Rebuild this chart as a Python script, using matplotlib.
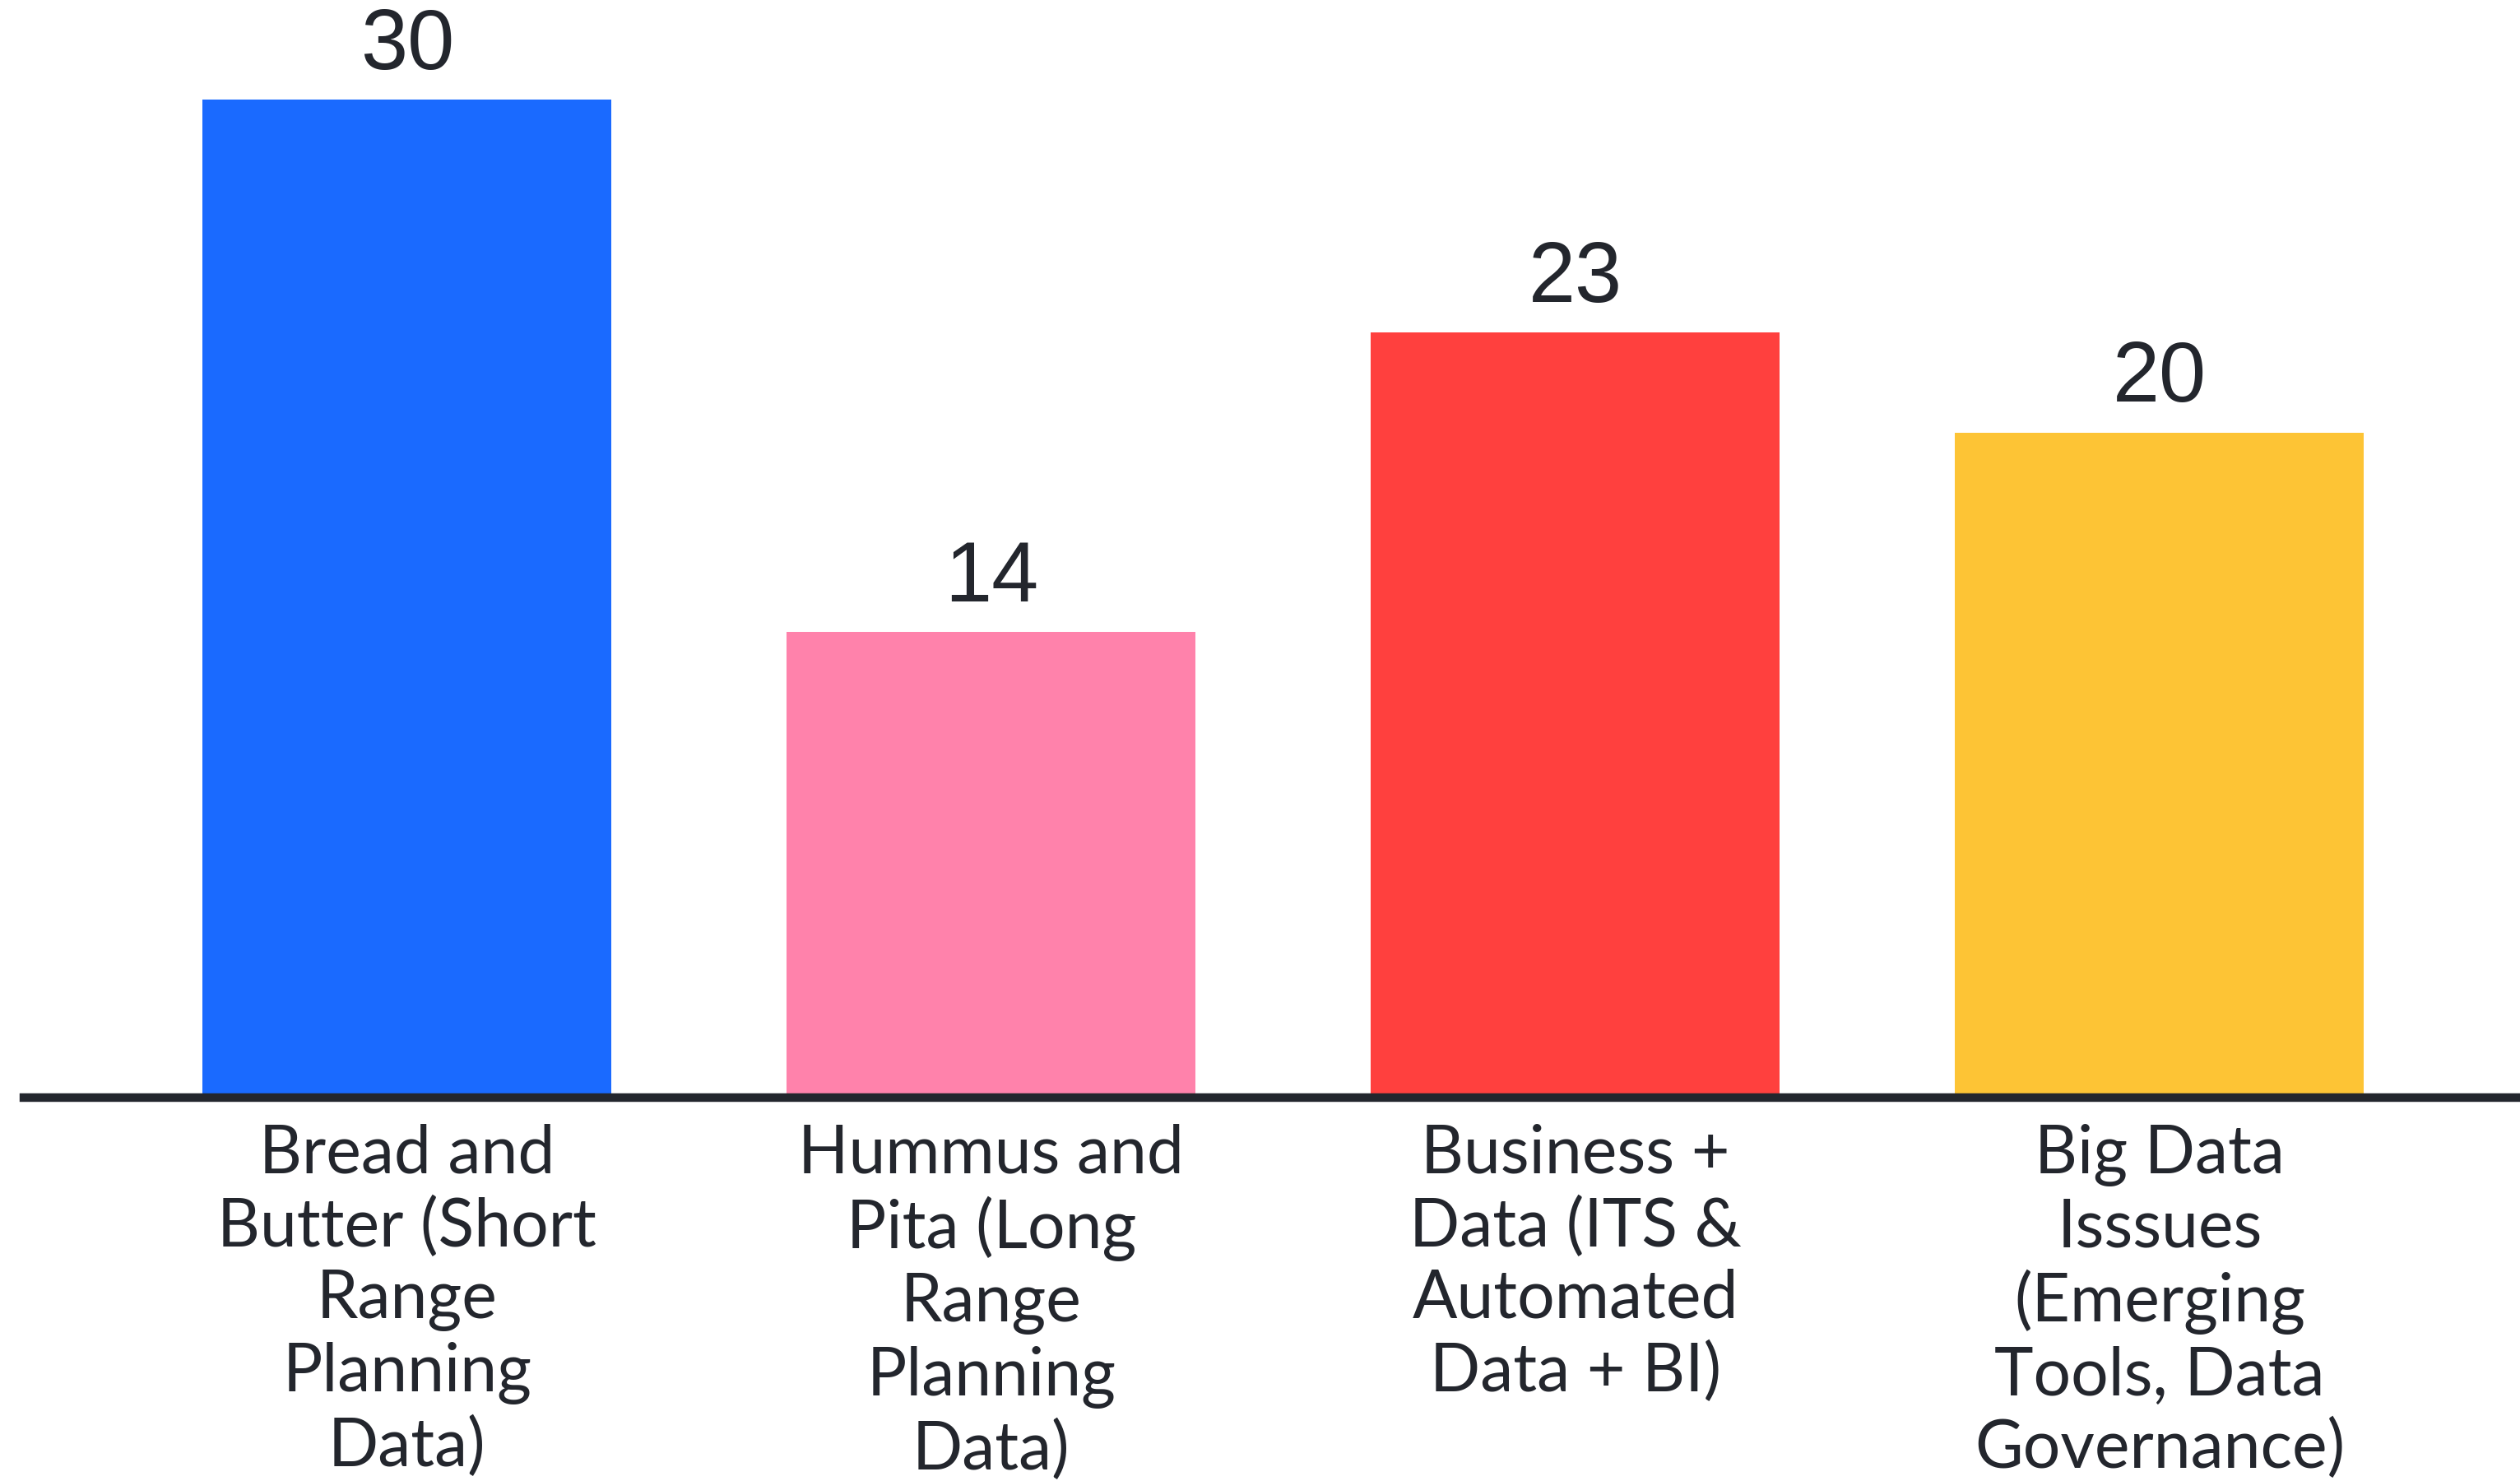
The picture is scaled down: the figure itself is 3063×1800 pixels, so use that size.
import matplotlib.pyplot as plt

categories = [
    "Bread and\nButter (Short\nRange\nPlanning\nData)",
    "Hummus and\nPita (Long\nRange\nPlanning\nData)",
    "Business +\nData (ITS &\nAutomated\nData + BI)",
    "Big Data\nIsssues\n(Emerging\nTools, Data\nGovernance)",
]
values = [30, 14, 23, 20]
colors = ["#1a6aff", "#ff82ab", "#ff403e", "#fdc435"]

ink = "#23262d"

fig = plt.figure(figsize=(30.63, 18), dpi=100)
left = 29 / 3063
ax = fig.add_axes([left, 1 - 1334 / 1800, 1 - left, 1334 / 1800])

x = range(len(values))
bars = ax.bar(x, values, width=0.70, color=colors, zorder=2)

for b, v in zip(bars, values):
    ax.annotate(str(v), (b.get_x() + b.get_width() / 2, v),
                xytext=(0, 11), textcoords="offset points",
                ha="center", va="bottom", fontsize=74,
                family="Liberation Sans", color=ink)

ax.set_xlim(-0.656, 3.617)
ax.set_ylim(0, 33.0)

ax.set_xticks(list(x))
ax.set_xticklabels(categories, fontsize=58, family="Lato", color=ink,
                   linespacing=1.22, va="top")
ax.tick_params(axis="x", length=0, pad=23)
ax.set_yticks([])

for s in ["top", "left", "right"]:
    ax.spines[s].set_visible(False)
ax.spines["bottom"].set_color(ink)
ax.spines["bottom"].set_linewidth(7.5)
ax.spines["bottom"].set_zorder(3)

fig.savefig("out.png", dpi=100)
